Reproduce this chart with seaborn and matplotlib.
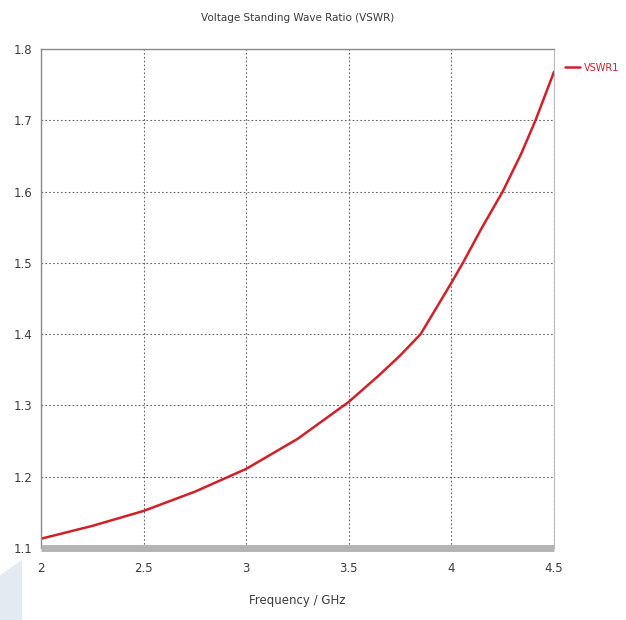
import matplotlib
matplotlib.use("Agg")
import matplotlib.pyplot as plt
import seaborn as sns
import pandas as pd
from matplotlib.patches import Polygon

freq_ghz = [2.0, 2.25, 2.5, 2.75, 3.0, 3.25, 3.5, 3.65, 3.75, 3.85, 4.0, 4.056, 4.15, 4.25, 4.34, 4.41, 4.5]
vswr = [1.113, 1.131, 1.152, 1.179, 1.211, 1.253, 1.305, 1.343, 1.370, 1.40, 1.472, 1.50, 1.55, 1.60, 1.653, 1.70, 1.768]
x_ticks = [2, 2.5, 3, 3.5, 4, 4.5]
x_tick_labels = ["2", "2.5", "3", "3.5", "4", "4.5"]
y_ticks = [1.1, 1.2, 1.3, 1.4, 1.5, 1.6, 1.7, 1.8]
y_tick_labels = ["1.1", "1.2", "1.3", "1.4", "1.5", "1.6", "1.7", "1.8"]
series_name = "VSWR1"
title = "Voltage Standing Wave Ratio (VSWR)"
x_label = "Frequency / GHz"

df = pd.DataFrame({"Frequency": freq_ghz, "VSWR": vswr, "series": series_name})

sns.set_theme(style="white")
plt.rcParams['font.family'] = ['DejaVu Sans']

fig = plt.figure(figsize=(6.26, 6.2), dpi=100)
ax = fig.add_axes([41/626, 1-548/620, (554-41)/626, (548-49)/620])

sns.lineplot(data=df, x="Frequency", y="VSWR", hue="series", palette={series_name: "#d0202a"},
             linewidth=1.8, ax=ax, legend=True)

ax.set_xlim(2, 4.5)
ax.set_ylim(1.1, 1.8)
ax.set_xticks(x_ticks)
ax.set_xticklabels(x_tick_labels, fontsize=8.5, color="#3a3a3a")
ax.set_yticks(y_ticks)
ax.set_yticklabels(y_tick_labels, fontsize=8.5, color="#3a3a3a")
ax.tick_params(axis="x", length=0, pad=10)
ax.tick_params(axis="y", length=0, pad=6)
ax.grid(True, color="#666666", linestyle=(0, (1.5, 2)), linewidth=0.8)

for s in ["left", "top"]:
    ax.spines[s].set_color("#8a8a8a")
    ax.spines[s].set_linewidth(1.0)
ax.spines["right"].set_color("#bbbbbb")
ax.spines["right"].set_linewidth(0.8)
ax.spines["bottom"].set_color("#b4b4b4")
ax.spines["bottom"].set_linewidth(5)
ax.spines["bottom"].set_capstyle("butt")

ax.set_xlabel(x_label, fontsize=8.5, color="#3a3a3a", labelpad=14)
ax.set_ylabel("")
ax.set_title(title, fontsize=7.5, color="#3a3a3a", pad=20)

leg = ax.legend(loc="upper left", bbox_to_anchor=(1.005, 0.99), frameon=False,
                fontsize=7, handlelength=1.5, handletextpad=0.4, labelcolor="#d0202a")

fig.patches.append(Polygon([[0, 0], [22/626, 0], [22/626, 1-560/620], [0, 1-575/620]],
                           closed=True, transform=fig.transFigure, facecolor="#e3eaf2",
                           edgecolor="none", zorder=-1))

fig.savefig("out.png", dpi=100)
